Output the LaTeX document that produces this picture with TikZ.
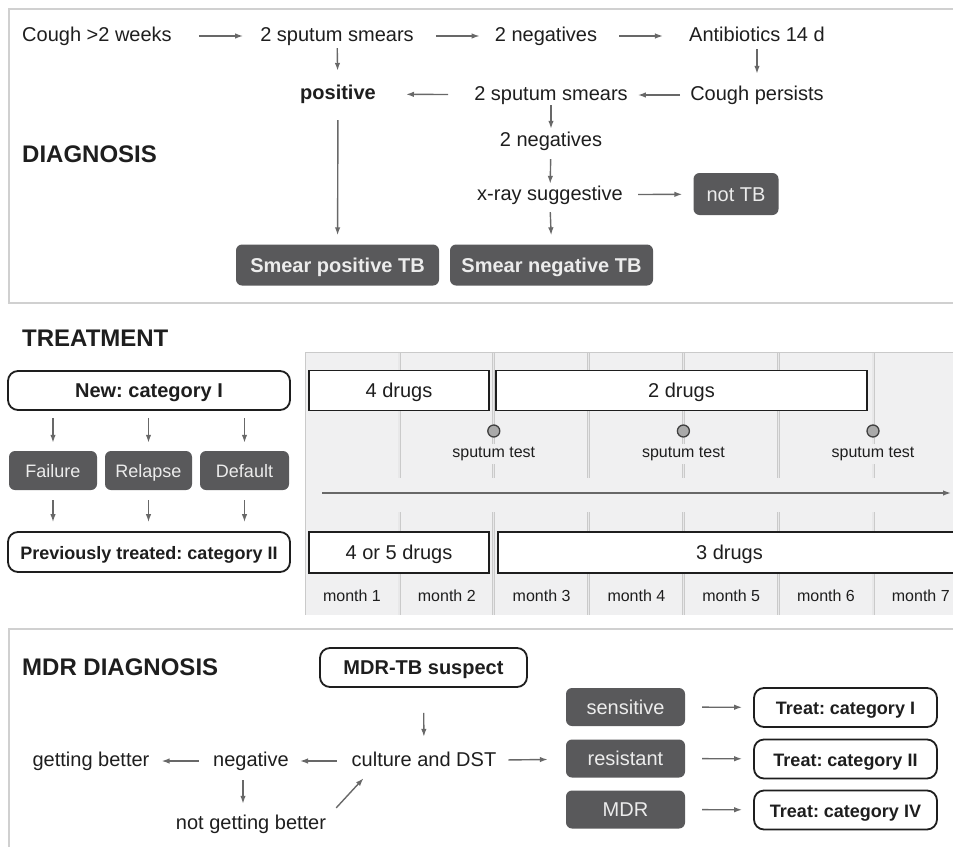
\documentclass[tikz,border=0pt]{standalone}
\usepackage{fontspec}
\setmainfont{Liberation Sans}
\usetikzlibrary{arrows.meta}
\frenchspacing

\definecolor{ink}{HTML}{1E1E1E}
\definecolor{boxgray}{HTML}{59595B}
\definecolor{boxtext}{HTML}{ECECEC}
\definecolor{arrgray}{HTML}{686868}
\definecolor{framegray}{HTML}{D0D0D0}
\definecolor{panel}{HTML}{F0F0F1}
\definecolor{sepgray}{HTML}{CACACA}
\definecolor{sepin}{HTML}{E8E8E9}
\definecolor{dotfill}{HTML}{A9A9A9}

\tikzset{
  txt/.style={font=\fontsize{20}{24}\selectfont, text=ink, inner sep=1pt, text height=14pt, text depth=4pt, yshift=-2pt},
  head/.style={font=\fontsize{24}{28}\selectfont\bfseries, text=ink, anchor=west, inner sep=0pt},
  small/.style={font=\fontsize{16}{19}\selectfont, text=ink, inner sep=1pt},
  darkbox/.style={fill=boxgray, text=boxtext, rounded corners=6pt, inner sep=0pt, text height=14pt, text depth=0pt, font=\fontsize{20}{24}\selectfont},
  outbox/.style={draw=ink, line width=1.8pt, fill=white, rounded corners=10pt, inner sep=0pt, text height=14pt, text depth=0pt, text=ink, font=\fontsize{20}{24}\selectfont\bfseries},
  drugbox/.style={draw=ink, line width=1.8pt, fill=white, inner sep=0pt, text height=14pt, text depth=0pt, text=ink, font=\fontsize{20}{24}\selectfont},
  arr/.style={draw=arrgray, line width=1.4pt, -{Latex[length=8pt,width=5.5pt]}},
  frame/.style={draw=framegray, line width=2pt},
  sep/.style={draw=sepgray, line width=0.9pt, double=sepin, double distance=1.2pt},
  dot/.style={circle, draw=ink!85, fill=dotfill, line width=1.3pt, minimum size=12pt, inner sep=0pt}
}

\begin{document}
\begin{tikzpicture}[x=1pt,y=-1pt]

\useasboundingbox (0,0) rectangle (953,846);
\clip (0,0) rectangle (953,846);

% DIAGNOSIS
\draw[frame] (970,9) -- (9,9) -- (9,303) -- (970,303);
\node[head] (diag) at (22,154) {DIAGNOSIS};

\node[txt] (cough) at (97,34) {Cough >2 weeks};
\node[txt] (smearA) at (337,34) {2 sputum smears};
\node[txt] (negA) at (546,34) {2 negatives};
\node[txt] (abx) at (757,34) {Antibiotics 14 d};
\node[txt] (persist) at (757,93) {Cough persists};
\node[txt] (smearB) at (551,93) {2 sputum smears};
\node[txt,font=\fontsize{20}{24}\selectfont\bfseries] (pos) at (338,92) {positive};
\node[txt] (negB) at (551,139) {2 negatives};
\node[txt] (xray) at (550,193) {x-ray suggestive};
\node[darkbox, minimum width=85pt, minimum height=42pt] (nottb) at (736,194) {not TB};
\node[darkbox, minimum width=203pt, minimum height=41pt, font=\fontsize{20}{24}\selectfont\bfseries] (smpos) at (337.5,265) {Smear positive TB};
\node[darkbox, minimum width=203pt, minimum height=41pt, font=\fontsize{20}{24}\selectfont\bfseries] (smneg) at (551.5,265) {Smear negative TB};

\draw[arr, shorten <=26pt, shorten >=16pt] (cough) -- (smearA);
\draw[arr, shorten <=21pt, shorten >=14pt] (smearA) -- (negA);
\draw[arr, shorten <=21pt, shorten >=25pt] (negA) -- (abx);
\draw[arr, shorten <=3pt, shorten >=11pt] (abx) -- (persist);
\draw[arr, shorten <=9pt, shorten >=9pt] (persist) -- (smearB);
\draw[arr, shorten <=25pt, shorten >=29pt] (smearB) -- (pos);
\draw[arr, shorten <=2pt, shorten >=13pt] (smearA) -- (pos);
\draw[arr, shorten <=16pt, shorten >=9pt] (pos) -- (smpos);
\draw[arr, shorten <=0pt, shorten >=2pt] (smearB) -- (negB);
\draw[arr, shorten <=8pt, shorten >=1pt] (negB) -- (xray);
\draw[arr, shorten <=7pt, shorten >=9pt] (xray.south) -- (smneg.north);
\draw[arr, shorten <=14pt, shorten >=11pt] (xray) -- (nottb);

% TREATMENT
\node[head] (treat) at (22,338) {TREATMENT};

\node[outbox, minimum width=282pt, minimum height=39pt] (newcat) at (149,390.5) {New: category I};
\node[darkbox, minimum width=88pt, minimum height=39pt, font=\fontsize{18}{22}\selectfont] (fail) at (53,470.5) {Failure};
\node[darkbox, minimum width=87pt, minimum height=39pt, font=\fontsize{18}{22}\selectfont] (relapse) at (148.5,470.5) {Relapse};
\node[darkbox, minimum width=89pt, minimum height=39pt, font=\fontsize{18}{22}\selectfont] (default) at (244.5,470.5) {Default};
\node[outbox, minimum width=282pt, minimum height=40pt, font=\fontsize{18}{22}\selectfont\bfseries] (prevcat) at (149,552) {Previously treated: category II};

\foreach \b in {fail,relapse,default}
{
    \draw[arr, shorten <=7pt, shorten >=8pt] (newcat.south -| \b.north) -- (\b.north);
    \draw[arr, shorten <=10pt, shorten >=9pt] (\b.south) -- (prevcat.north -| \b.south);
}

% timeline panel
\fill[panel] (305,352) rectangle (970,615);
\draw[sepgray, line width=0.8pt] (970,352.5) -- (305.5,352.5) -- (305.5,615);
\foreach \i in {0,...,6}
{
    \draw[sep] ({399+94.8*\i},353) -- ({399+94.8*\i},478);
    \draw[sep] ({399+94.8*\i},512) -- ({399+94.8*\i},615);
}

\node[drugbox, minimum width=180pt, minimum height=40pt] (drugA) at (399,390.5) {4 drugs};
\node[drugbox, minimum width=371pt, minimum height=40pt] (drugB) at (681.5,390.5) {2 drugs};
\node[drugbox, minimum width=180pt, minimum height=41pt] (drugC) at (399,552.5) {4 or 5 drugs};
\node[drugbox, minimum width=463pt, minimum height=41pt] (drugD) at (729.5,552.5) {3 drugs};

\foreach \i in {1,2,3}
{
    \node[dot] (test\i) at ({493.8+189.6*(\i-1)},431) {};
    \node[small, fill=panel, inner sep=3pt] (testlab\i) at ({493.8+189.6*(\i-1)},454) {sputum test};
}

\coordinate (tstart) at (322,493);
\coordinate (tend) at (951,493);
\draw[arr] (tstart) -- (tend);

\foreach \i in {1,...,7}
{
    \node[small] (month\i) at ({352+94.8*(\i-1)},596) {month \i};
}

% MDR DIAGNOSIS
\draw[frame] (970,629) -- (9,629) -- (9,860);
\node[head] (mdrhead) at (22,667) {MDR DIAGNOSIS};

\node[outbox, minimum width=207pt, minimum height=39pt] (suspect) at (423.5,667.5) {MDR-TB suspect};
\node[txt] (culture) at (424,759) {culture and DST};
\node[txt] (negM) at (251,759) {negative};
\node[txt] (better) at (91,759) {getting better};
\node[txt] (notbetter) at (251,822) {not getting better};

\node[darkbox, minimum width=119pt, minimum height=38pt] (sens) at (625.5,707) {sensitive};
\node[darkbox, minimum width=119pt, minimum height=38pt] (resist) at (625.5,758.5) {resistant};
\node[darkbox, minimum width=119pt, minimum height=38pt] (mdr) at (625.5,809.5) {MDR};
\node[outbox, minimum width=183pt, minimum height=39pt, font=\fontsize{18}{22}\selectfont\bfseries] (catA) at (845.5,707.5) {Treat: category I};
\node[outbox, minimum width=183pt, minimum height=39pt, font=\fontsize{18}{22}\selectfont\bfseries] (catB) at (845.5,759) {Treat: category II};
\node[outbox, minimum width=183pt, minimum height=39pt, font=\fontsize{18}{22}\selectfont\bfseries] (catD) at (845.5,810) {Treat: category IV};

\draw[arr, shorten <=25pt, shorten >=14pt] (suspect.south) -- (culture.north);
\draw[arr, shorten <=11pt, shorten >=18pt] (culture) -- (resist);
\draw[arr, shorten <=14pt, shorten >=10pt] (culture) -- (negM);
\draw[arr, shorten <=13pt, shorten >=11pt] (negM) -- (better);
\draw[arr, shorten <=9pt, shorten >=10pt] ([xshift=-8pt]negM.south) -- ([xshift=-8pt]notbetter.north);
\draw[arr] ([xshift=9pt,yshift=6pt]notbetter.north east) -- ([xshift=13pt,yshift=-7pt]culture.south west);
\draw[arr, shorten <=17pt, shorten >=11pt] (sens) -- (catA);
\draw[arr, shorten <=17pt, shorten >=11pt] (resist) -- (catB);
\draw[arr, shorten <=17pt, shorten >=11pt] (mdr) -- (catD);

\end{tikzpicture}
\end{document}
